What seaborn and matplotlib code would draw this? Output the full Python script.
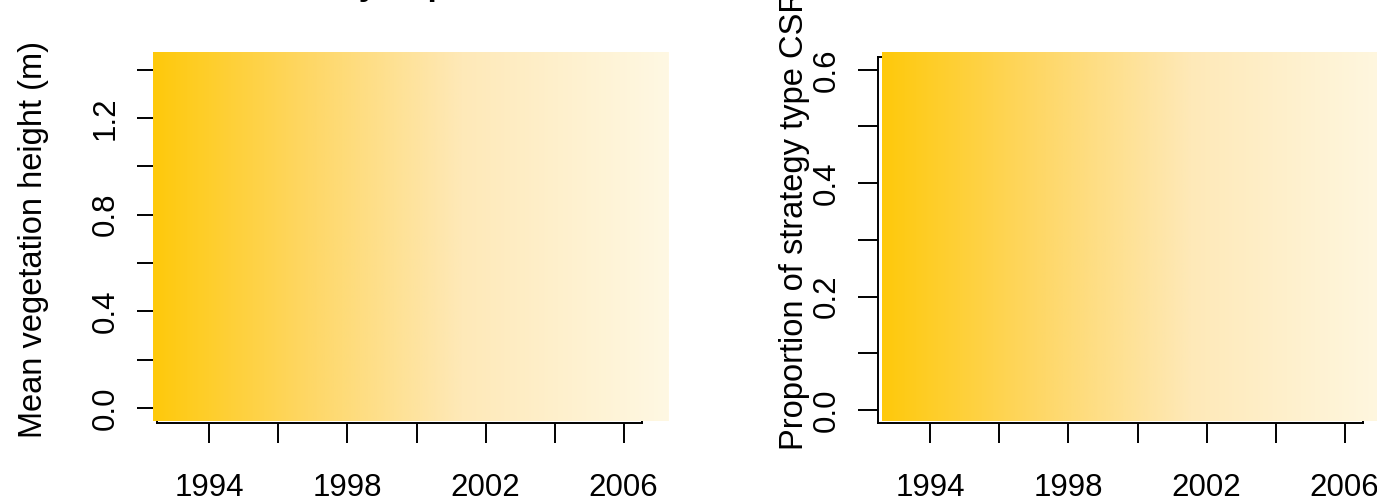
import numpy as np
import matplotlib
matplotlib.use("Agg")
import matplotlib.pyplot as plt
import seaborn as sns
from matplotlib.colors import LinearSegmentedColormap

# ---------------- data ----------------
years = [1993, 1994, 1995, 1996, 1997, 1998, 1999, 2000, 2001, 2002, 2003, 2004, 2005, 2006]
x_ticks = [1994, 1996, 1998, 2000, 2002, 2004, 2006]
x_tick_labels = ["1994", "", "1998", "", "2002", "", "2006"]

height_ticks = [0.0, 0.2, 0.4, 0.6, 0.8, 1.0, 1.2, 1.4]
height_tick_labels = ["0.0", "", "0.4", "", "0.8", "", "1.2", ""]

csr_ticks = [0.0, 0.1, 0.2, 0.3, 0.4, 0.5, 0.6]
csr_tick_labels = ["0.0", "", "0.2", "", "0.4", "", "0.6"]

left_ylabel = "Mean vegetation height (m)"
right_ylabel = "Proportion of strategy type CSR"
title_text = "Summary of plots"

gradient_positions = [0.0, 0.3, 0.6, 1.0]
gradient_colors = ["#FFC90B", "#FED765", "#FEE9B8", "#FFF8E3"]

# ---------------- style ----------------
sns.set_theme(style="ticks")
plt.rcParams["font.family"] = ["Liberation Sans", "DejaVu Sans"]

W, H = 1377, 504
fig = plt.figure(figsize=(W / 100, H / 100), dpi=100)


def px_axes(left, top, right, bottom):
    return [left / W, 1 - bottom / H, (right - left) / W, (bottom - top) / H]


ax1 = fig.add_axes(px_axes(157, 55, 641.5, 423))
ax2 = fig.add_axes(px_axes(878, 57.3, 1362.5, 423))

span = max(years) - min(years)
xlim = (min(years) - 0.04 * span, max(years) + 0.04 * span)

cmap = LinearSegmentedColormap.from_list(
    "fade", list(zip(gradient_positions, gradient_colors)))
grad = np.linspace(0, 1, 256)[np.newaxis, :]

panels = [
    (ax1, height_ticks, height_tick_labels, (-0.062, 1.4605),
     (1992.37, 2007.31, -0.0525, 1.473)),
    (ax2, csr_ticks, csr_tick_labels, (-0.0229, 0.622),
     (1992.60, 2007.54, -0.0194, 0.631)),
]

for ax, yt, ytl, ylim, ext in panels:
    ax.imshow(grad, extent=ext, aspect="auto", cmap=cmap,
              zorder=5, clip_on=False, interpolation="bilinear")
    ax.set_xlim(*xlim)
    ax.set_ylim(*ylim)
    ax.set_xticks(x_ticks)
    ax.set_xticklabels(x_tick_labels, fontsize=22.5)
    ax.set_yticks(yt)
    ax.set_yticklabels(ytl, rotation=90, va="center", fontsize=22.5)
    ax.tick_params(axis="both", direction="out", length=14.4, width=1.4,
                   color="black", labelcolor="black")
    ax.tick_params(axis="x", pad=21.5)
    ax.tick_params(axis="y", pad=12)
    for s in ax.spines.values():
        s.set_visible(True)
        s.set_linewidth(1.4)
        s.set_color("black")
    ax.set_facecolor("white")

fig.text(42 / W, 1 - 240 / H, left_ylabel, rotation=90, rotation_mode="anchor",
         ha="center", va="baseline", fontsize=23.5, color="black")
fig.text(803 / W, 1 - 220 / H, right_ylabel, rotation=90, rotation_mode="anchor",
         ha="center", va="baseline", fontsize=23.5, color="black")

fig.text(225 / W, 1 + 5 / H, title_text, ha="left", va="baseline",
         fontsize=24, fontweight="bold", color="black")

fig.savefig("out.png", dpi=100, facecolor="white")
